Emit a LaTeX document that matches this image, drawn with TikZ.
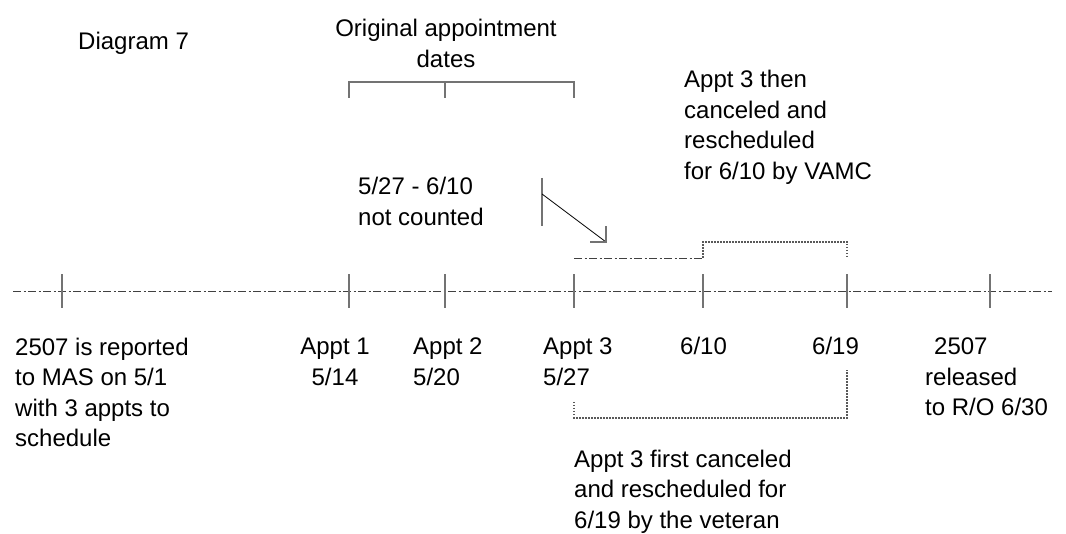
\documentclass[tikz,border=0pt]{standalone}
\usepackage{fontspec}
\setmainfont{Liberation Sans}
\begin{document}
\begin{tikzpicture}[x=1pt,y=-1pt,
  lbl/.style={font=\fontsize{24}{30.5}\selectfont, inner sep=0pt, anchor=base west, align=left},
  tickline/.style={draw=black!55, line width=1.6pt},
  axisline/.style={draw=black!75, line width=0.9pt, dash pattern=on 8pt off 2.5pt on 2pt off 2.5pt},
  dashdotline/.style={draw=black!75, line width=0.9pt, dash pattern=on 8pt off 2.5pt on 2pt off 2.5pt},
  dotline/.style={draw=black!65, line width=1.2pt, dash pattern=on 1.5pt off 1.5pt}]
\useasboundingbox (0,0) rectangle (1066,534);

% timeline
\coordinate (axL) at (13,291);
\coordinate (axR) at (1052,291);
\draw[axisline] (axL) -- (axR);
\foreach \n/\x in {t1/62,t2/349,t3/445,t4/574,t5/703,t6/847,t7/990}{
  \coordinate (\n) at (\x,291);
  \draw[tickline] ([yshift=-17pt]\n) -- ([yshift=17pt]\n);
}

% top bracket
\coordinate (bA) at (349,82);
\coordinate (bB) at (445,82);
\coordinate (bC) at (574,82);
\coordinate (bAd) at (349,98);
\coordinate (bBd) at (445,98);
\coordinate (bCd) at (574,98);
\draw[tickline, line width=1.3pt] (bAd) -- (bA) -- (bC) -- (bCd);
\draw[tickline, line width=1.3pt] (bB) -- (bBd);

% arrow marker
\coordinate (vTop) at (542,178);
\coordinate (vBot) at (542,226);
\coordinate (aS) at (542,194);
\coordinate (aE) at (606,242);
\coordinate (hL) at (590,242);
\coordinate (hU) at (606,226);
\draw[tickline, line width=1.3pt] (vTop) -- (vBot);
\draw[black, line width=0.8pt] (aS) -- (aE);
\draw[tickline, line width=1.3pt] (hL) -- (aE) -- (hU);

% upper step line
\coordinate (u1) at (574,258);
\coordinate (u2) at (703,258);
\coordinate (u3) at (703,242);
\coordinate (u4) at (847,242);
\coordinate (u5) at (847,258);
\draw[dashdotline] (u1) -- (u2);
\draw[dotline] (u2) -- (u3) -- (u4) -- (u5);

% lower bracket
\coordinate (l1) at (574,402);
\coordinate (l2) at (574,418);
\coordinate (l3) at (847,418);
\coordinate (l4) at (847,370);
\draw[dotline] (l1) -- (l2) -- (l3) -- (l4);

% texts (anchor = baseline of the last line)
\node[lbl] (title) at (78,50) {Diagram 7};
\node[lbl, anchor=base, align=center] (orig) at (446,67.5) {Original appointment\\dates};
\node[lbl] (vamc) at (684,179.5) {Appt 3 then\\canceled and\\rescheduled\\for 6/10 by VAMC};
\node[lbl] (nc) at (358,225.5) {5/27 - 6/10\\not counted};
\node[lbl] (rep) at (15,446.5) {2507 is reported\\to MAS on 5/1\\with 3 appts to\\schedule};
\node[lbl, anchor=base, align=center] (ap1) at (335,385.5) {Appt 1\\5/14};
\node[lbl] (ap2) at (413,385.5) {Appt 2\\5/20};
\node[lbl] (ap3) at (543,385.5) {Appt 3\\5/27};
\node[lbl] (d610) at (680,355) {6/10};
\node[lbl] (d619) at (812,355) {6/19};
\node[lbl] (rel) at (925,416) {\hspace{9pt}2507\\released\\to R/O 6/30};
\node[lbl] (vet) at (574,528) {Appt 3 first canceled\\and rescheduled for\\6/19 by the veteran};
\end{tikzpicture}
\end{document}
